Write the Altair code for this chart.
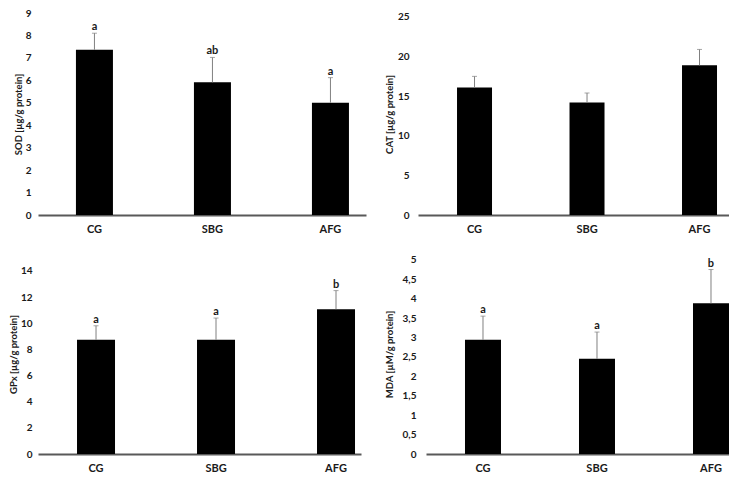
import altair as alt
import pandas as pd

groups = ["CG", "SBG", "AFG"]

sod_mean = [7.36, 5.91, 5.00]
sod_err = [0.74, 1.11, 1.12]
sod_letters = ["a", "ab", "a"]

cat_mean = [16.1, 14.2, 18.9]
cat_err = [1.4, 1.2, 2.0]
cat_letters = ["", "", ""]

gpx_mean = [8.74, 8.74, 11.07]
gpx_err = [1.07, 1.66, 1.43]
gpx_letters = ["a", "a", "b"]

mda_mean = [2.94, 2.45, 3.88]
mda_err = [0.61, 0.69, 0.87]
mda_letters = ["a", "a", "b"]

sod_ticks = [0, 1, 2, 3, 4, 5, 6, 7, 8, 9]
cat_ticks = [0, 5, 10, 15, 20, 25]
gpx_ticks = [0, 2, 4, 6, 8, 10, 12, 14]
mda_ticks = [0, 0.5, 1, 1.5, 2, 2.5, 3, 3.5, 4, 4.5, 5]

FONT = "Lato"
TXT = "#1a1a1a"


def panel(mean, err, letters, title, dmax, ticks, width, height, xs, extent,
          tpad, lpad, label_expr=None):
    df = pd.DataFrame({"g": groups, "v": mean, "e": err, "lab": letters})
    df["hi"] = df["v"] + df["e"]
    xscale = alt.Scale(paddingInner=xs[0], paddingOuter=xs[1], align=xs[2])
    xaxis = alt.Axis(title=None, labelAngle=0, ticks=False, grid=False,
                     domainColor="#595959", domainWidth=2, labelFont=FONT,
                     labelFontWeight="bold", labelFontSize=11, labelColor=TXT,
                     labelPadding=8)
    ya = dict(title=title, values=ticks, grid=False, ticks=False, domain=False,
              labelFont=FONT, labelFontSize=10, labelFontWeight="bold",
              labelColor=TXT, labelPadding=lpad, labelOverlap=False,
              minExtent=extent, maxExtent=extent, titleFont=FONT,
              titleFontSize=9.5, titleFontWeight="bold", titleColor=TXT,
              titlePadding=tpad)
    if label_expr:
        ya["labelExpr"] = label_expr
    yscale = alt.Scale(domain=[0, dmax], nice=False, zero=True)

    def xenc():
        return alt.X("g:N", sort=groups, scale=xscale, axis=xaxis)

    def yenc(field):
        return alt.Y(field, scale=yscale, axis=alt.Axis(**ya))

    base = alt.Chart(df)
    bars = base.mark_bar(color="black").encode(x=xenc(), y=yenc("v:Q"))
    rule = base.mark_rule(color="#808080", strokeWidth=1).encode(
        x=xenc(), y=yenc("v:Q"), y2="hi:Q")
    cap = base.mark_tick(color="#808080", thickness=1, size=5).encode(
        x=xenc(), y=yenc("hi:Q"))
    text = base.mark_text(baseline="bottom", dy=-1, font=FONT,
                          fontWeight="bold", fontSize=11, color=TXT).encode(
        x=xenc(), y=yenc("hi:Q"), text="lab:N")
    return alt.layer(bars, rule, cap, text).properties(width=width, height=height)


sod = panel(sod_mean, sod_err, sod_letters, "SOD [µg/g protein]", 9.0, sod_ticks,
            328, 202, (0.6864, 0.233, 0.69), 13, 2, 7)
cat = panel(cat_mean, cat_err, cat_letters, "CAT [µg/g protein]", 25.5, cat_ticks,
            311, 202, (0.6889, 0.2267, 0.765), 21, 3, 9)
gpx = panel(gpx_mean, gpx_err, gpx_letters, "GPx [µg/g protein]", 15.3, gpx_ticks,
            323, 200, (0.6833, 0.1875, 0.867), 18, 2, 6)
mda = panel(mda_mean, mda_err, mda_letters, "MDA [µM/g protein]", 5.15, mda_ticks,
            303, 200, (0.6842, 0.171, 1.0), 25, 7, 10,
            label_expr="replace(toString(datum.value), '.', ',')")

chart = alt.concat(sod, cat, gpx, mda, columns=2, align="none",
                   spacing={"row": 20, "column": 18}).properties(
    padding={"left": 0, "top": 0, "right": 0, "bottom": 0}
).configure(background="white").configure_view(strokeWidth=0)

chart.save("out.html", embed_options={"renderer": "svg", "actions": False})
